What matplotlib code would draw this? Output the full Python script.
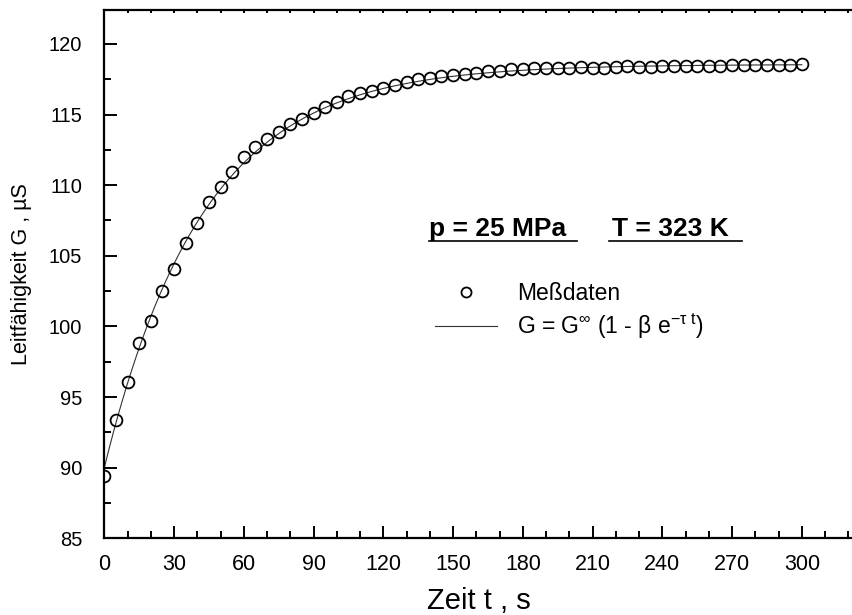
import numpy as np
import matplotlib
matplotlib.use("Agg")
import matplotlib.pyplot as plt
from matplotlib.ticker import MultipleLocator

plt.rcParams['font.family'] = ['Liberation Sans', 'DejaVu Sans']
plt.rcParams['mathtext.fontset'] = 'custom'
plt.rcParams['mathtext.rm'] = 'Liberation Sans'
plt.rcParams['mathtext.it'] = 'Liberation Sans'

# measured data (t in s, G in uS)
t_data = np.arange(0, 301, 5)
G_data = [89.4, 93.4, 96.1, 98.8, 100.4, 102.5, 104.1, 105.9, 107.3, 108.8,
          109.9, 110.9, 112.0, 112.7, 113.3, 113.8, 114.3, 114.7, 115.1, 115.5,
          115.9, 116.3, 116.5, 116.7, 116.9, 117.1, 117.3, 117.5, 117.6, 117.7,
          117.8, 117.9, 117.95, 118.05, 118.1, 118.2, 118.2, 118.3, 118.3, 118.3,
          118.3, 118.35, 118.3, 118.3, 118.35, 118.45, 118.4, 118.4, 118.45, 118.45,
          118.45, 118.45, 118.45, 118.45, 118.5, 118.5, 118.5, 118.5, 118.5, 118.5,
          118.55]

# fit G = Ginf (1 - beta exp(-tau t))
G_inf = 118.55
beta = 0.2408
tau = 0.0235

fig = plt.figure(figsize=(8.53, 6.15), dpi=100)
ax = fig.add_axes([0.1223, 0.1247, 0.8777, 0.859])

t_fit = np.linspace(0, 300, 601)
G_fit = G_inf * (1 - beta * np.exp(-tau * t_fit))
ax.plot(t_fit, G_fit, color='#333333', lw=0.8, label=r'G = G$^{\infty}$ (1 - $\beta$ e$^{-\tau\ t}$)', zorder=2)
ax.plot(t_data, G_data, 'o', ms=8.5, mfc='none', mec='black', mew=1.3, label='Meßdaten', zorder=3)

ax.set_xlim(0, 322)
ax.set_ylim(85, 122.4)
ax.xaxis.set_major_locator(MultipleLocator(30))
ax.xaxis.set_minor_locator(MultipleLocator(10))
ax.yaxis.set_major_locator(MultipleLocator(5))
ax.yaxis.set_minor_locator(MultipleLocator(2.5))

ax.spines['right'].set_visible(False)
for s in ['left', 'bottom', 'top']:
    ax.spines[s].set_linewidth(1.6)

ax.tick_params(axis='both', which='major', direction='in', length=9, width=1.4)
ax.tick_params(axis='both', which='minor', direction='in', length=5, width=1.4)
ax.tick_params(axis='x', which='both', pad=11, labelsize=15.5)
ax.tick_params(axis='y', pad=16, labelsize=14.5)
ax.tick_params(axis='x', which='both', top=True)
for tk in ax.xaxis.get_major_ticks() + ax.xaxis.get_minor_ticks():
    tk.tick2line.set_markersize(2)

ax.set_xlabel('Zeit t , s', fontsize=21, labelpad=9)
ax.set_ylabel('Leitfähigkeit G , µS', fontsize=15.5, labelpad=12)

# conditions, underlined
ax.text(0.4337, 0.572, 'p = 25 MPa', transform=ax.transAxes, fontsize=19, fontweight='bold')
ax.text(0.6776, 0.572, 'T = 323 K', transform=ax.transAxes, fontsize=19, fontweight='bold')
ax.plot([0.4337, 0.631], [0.5633, 0.5633], transform=ax.transAxes, color='black', lw=1.2, clip_on=False)
ax.plot([0.6737, 0.8513], [0.5633, 0.5633], transform=ax.transAxes, color='black', lw=1.2, clip_on=False)

handles, labels = ax.get_legend_handles_labels()
leg = ax.legend(handles[::-1], labels[::-1], loc='upper left', bbox_to_anchor=(0.414, 0.525),
                frameon=False, fontsize=16.5, handlelength=2.7, handletextpad=0.9,
                markerscale=0.85, labelspacing=0.3)

fig.savefig('out.png', dpi=100)
